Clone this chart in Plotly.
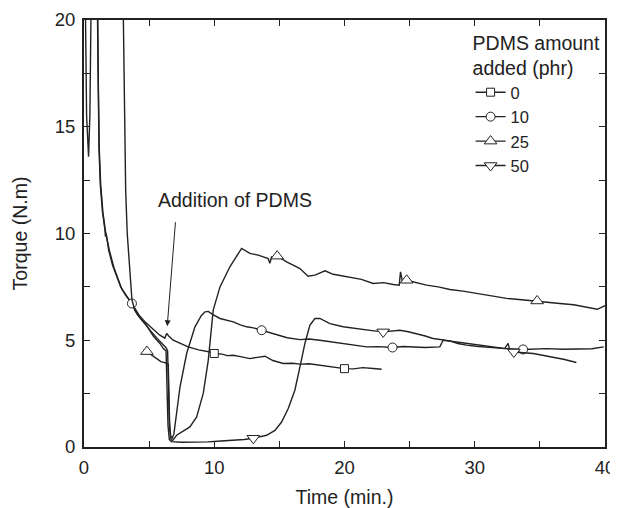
import plotly.graph_objects as go

# PDMS 0 phr
t0 = [0.1, 0.2, 0.35, 0.45, 0.55, 1.04, 1.1, 1.17, 1.28, 1.45, 1.65, 1.95, 2.3, 2.9, 3.7,
      4.2, 4.7, 5.3, 5.8, 6.2, 6.35, 6.5, 6.85, 7.4, 8.0, 8.8, 9.67, 9.94, 10.6, 11.0, 11.46,
      12.1, 12.74, 13.3, 13.9, 14.5, 15.3, 16.0, 16.6, 17.3, 18.1, 19.0, 20.0, 20.7, 21.4,
      22.2, 22.85]
tq0 = [21, 15.5, 13.6, 15.5, 21, 21, 17, 14, 12.3, 11, 10.1, 9.2, 8.4, 7.4, 6.7,
       6.2, 5.85, 5.5, 5.25, 5.1, 5.32, 5.2, 5.0, 4.85, 4.69, 4.55, 4.45, 4.38, 4.35, 4.28, 4.3,
       4.22, 4.14, 4.2, 4.25, 4.05, 3.91, 3.92, 3.88, 3.9, 3.83, 3.75, 3.67, 3.66, 3.72,
       3.68, 3.64]
mt0 = [10.0, 20.0]
mq0 = [4.38, 3.67]

# PDMS 10 phr
t10 = [1.02, 1.08, 1.15, 1.25, 1.42, 1.6, 1.65, 1.7, 1.9, 2.2, 2.5, 2.82, 3.2, 3.68, 4.1,
       4.6, 5.1, 5.6, 6.0, 6.3, 6.42, 6.5, 6.55, 6.65, 6.78, 6.9, 7.1, 7.37, 7.88, 8.52,
       9.0, 9.29, 9.54, 9.9, 10.44, 10.9, 11.46, 12.0, 12.49, 13.0, 13.64, 14.2, 14.79,
       15.6, 16.58, 17.3, 18.1, 18.9, 19.65, 20.6, 21.7, 22.6, 23.69, 24.5, 25.27, 26.2,
       27.32, 27.45, 27.57, 28.6, 29.5, 30.4, 31.4, 32.4, 33.71, 34.6, 35.5, 36.8, 38.07,
       39.0, 39.9]
tq10 = [21, 17, 14, 12.3, 11, 10.2, 9.85, 10.0, 9.2, 8.5, 8.0, 7.5, 7.1, 6.72, 6.2,
        5.8, 5.45, 5.1, 4.85, 4.65, 4.5, 3.0, 1.2, 0.5, 0.42, 0.6, 1.5, 2.81, 4.38, 5.63,
        6.15, 6.33, 6.35, 6.2, 6.02, 5.95, 5.86, 5.72, 5.63, 5.58, 5.47, 5.36, 5.24,
        5.12, 5.03, 5.06, 5.0, 4.93, 4.88, 4.8, 4.69, 4.7, 4.66, 4.71, 4.69, 4.66,
        4.69, 4.9, 5.0, 4.92, 4.85, 4.77, 4.7, 4.61, 4.57, 4.6, 4.61, 4.58, 4.61,
        4.6, 4.69]
mt10 = [3.68, 13.64, 23.69, 33.71]
mq10 = [6.72, 5.47, 4.66, 4.57]

# PDMS 25 phr
t25 = [4.83, 5.2, 5.6, 5.9, 6.2, 6.47, 6.52, 6.58, 6.68, 6.8, 7.11, 7.6, 8.13, 8.65, 9.16,
       9.54, 9.92, 10.44, 11.2, 12.1, 12.74, 13.38, 14.14, 14.27, 14.4, 14.83, 15.56, 16.58,
       17.2, 17.73, 18.5, 19.13, 20.4, 21.3, 22.2, 23.0, 23.74, 24.2, 24.3, 24.45, 24.77,
       25.5, 26.3, 27.2, 28.09, 29.1, 30.14, 31.3, 32.44, 33.6, 34.79, 35.6, 36.53, 37.6,
       38.58, 39.4, 40.0]
tq25 = [4.47, 4.3, 4.15, 4.0, 3.95, 3.88, 2.5, 0.9, 0.35, 0.3, 0.55, 0.75, 0.94, 1.41, 2.52,
        4.06, 6.41, 7.5, 8.44, 9.3, 9.07, 8.99, 8.83, 8.6, 8.9, 8.94, 8.67, 8.36,
        8.0, 8.05, 8.25, 8.09, 7.97, 7.85, 7.66, 7.7, 7.61, 7.58, 8.2, 7.75, 7.81,
        7.7, 7.58, 7.5, 7.38, 7.3, 7.19, 7.1, 6.96, 6.9, 6.84, 6.8, 6.72, 6.66,
        6.56, 6.45, 6.62]
mt25 = [4.83, 14.83, 24.77, 34.79]
mq25 = [4.47, 8.94, 7.81, 6.84]

# PDMS 50 phr
t50 = [3.0, 3.08, 3.2, 3.32, 3.45, 3.53, 3.68, 3.9, 4.3, 4.8, 5.32, 5.83, 6.09, 6.3, 6.38,
       6.45, 6.55, 6.7, 7.5, 8.5, 9.5, 10.5, 11.5, 12.3, 13.0, 14.02, 14.66, 15.17, 15.68,
       16.19, 16.58, 16.96, 17.34, 17.73, 18.11, 18.88, 19.9, 20.5, 21.2, 22.1, 22.97,
       23.6, 24.25, 24.9, 25.53, 26.2, 26.8, 27.4, 28.09, 28.7, 29.37, 30.1, 30.9, 31.6,
       32.3, 32.56, 32.7, 33.0, 33.7, 34.5, 35.2, 36.0, 36.9, 37.8]
tq50 = [21, 16, 12, 10, 8.9, 8.28, 6.9, 6.4, 6.05, 5.7, 5.2, 4.85, 4.61, 4.5, 3.0,
        1.0, 0.35, 0.25, 0.22, 0.22, 0.24, 0.28, 0.3, 0.35, 0.41, 0.55, 0.78, 1.17, 1.8,
        2.66, 3.75, 4.85, 5.7, 6.02, 6.02, 5.78, 5.63, 5.58, 5.5, 5.45, 5.39,
        5.42, 5.47, 5.4, 5.32, 5.2, 5.08, 5.03, 4.97, 4.85, 4.77, 4.72, 4.69, 4.66,
        4.61, 4.85, 4.49, 4.45, 4.42, 4.38, 4.3, 4.22, 4.1, 3.96]
mt50 = [3.0, 13.0, 22.97, 33.0]
mq50 = [21, 0.41, 5.39, 4.45]

series = [
    ("0", t0, tq0, mt0, mq0, "square", 8),
    ("10", t10, tq10, mt10, mq10, "circle", 9),
    ("25", t25, tq25, mt25, mq25, "triangle-up", 11),
    ("50", t50, tq50, mt50, mq50, "triangle-down", 11),
]

ink = "#222222"
fnt = "Liberation Sans, Arial, sans-serif"

fig = go.Figure()
for name, t, q, mt, mq, sym, sz in series:
    fig.add_trace(go.Scatter(x=t, y=q, mode="lines", line=dict(color=ink, width=1.4),
                             showlegend=False, hoverinfo="skip"))
    fig.add_trace(go.Scatter(x=mt, y=mq, mode="markers", showlegend=False,
                             marker=dict(symbol=sym, size=sz, color="white",
                                         line=dict(color=ink, width=1))))
    # legend entry
    fig.add_trace(go.Scatter(x=[None], y=[None], mode="lines+markers", name=name,
                             line=dict(color=ink, width=1.4),
                             marker=dict(symbol=sym, size=sz, color="white",
                                         line=dict(color=ink, width=1))))

fig.add_annotation(x=11.63, y=11.57, text="Addition of PDMS", showarrow=False,
                   font=dict(size=19.5, color=ink))
fig.add_annotation(x=6.39, y=5.66, ax=7.03, ay=10.6, axref="x", ayref="y",
                   text="", showarrow=True, arrowhead=2, arrowsize=1.2,
                   arrowwidth=1, arrowcolor=ink, standoff=0)

axis_common = dict(showline=True, linecolor=ink, linewidth=2, mirror="ticks",
                   ticks="inside", ticklen=6, tickwidth=1.2, tickcolor=ink,
                   showgrid=False, zeroline=False, automargin=False,
                   ticklabelstandoff=3, tickfont=dict(size=18.5, color=ink))

# page body adds an 8px offset, so the figure is 610x500
fig.update_layout(
    width=610, height=500,
    margin=dict(l=76, r=13, t=12, b=61.3),
    plot_bgcolor="white", paper_bgcolor="white",
    font=dict(family=fnt, size=19, color=ink),
    xaxis=dict(range=[0, 40], dtick=10, title=dict(text="Time (min.)", standoff=16,
                                                     font=dict(size=19.5)),
               minor=dict(dtick=5, ticks="inside", ticklen=6, tickwidth=1.2, tickcolor=ink),
               **axis_common),
    yaxis=dict(range=[0, 20], dtick=5, title=dict(text="Torque (N.m)", standoff=22,
                                                    font=dict(size=19.5)),
               minor=dict(dtick=2.5, ticks="inside", ticklen=6, tickwidth=1.2, tickcolor=ink),
               **axis_common),
    legend=dict(x=0.742, y=0.99, xanchor="left", yanchor="top",
                bgcolor="rgba(0,0,0,0)", font=dict(size=16.5, color=ink),
                title=dict(text="PDMS amount<br>added (phr)", font=dict(size=19.5, color=ink))),
)

fig.write_html("out.html")
